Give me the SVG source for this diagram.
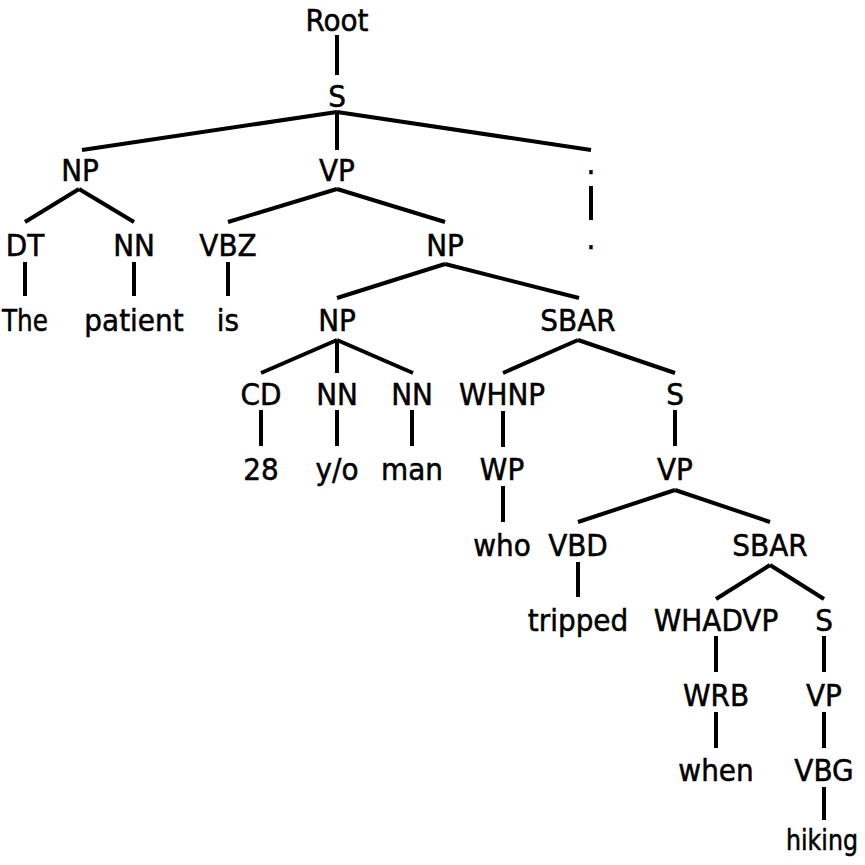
<svg xmlns="http://www.w3.org/2000/svg" width="865" height="865" viewBox="0 0 865 865">
<style>
text{font-family:"Liberation Sans Narrow","DejaVu Sans Condensed","Liberation Sans",sans-serif;font-size:31px;fill:#000;text-anchor:middle;stroke:#000;stroke-width:0.5}
#edges line{stroke:#000;stroke-width:4;stroke-linecap:butt}
</style>
<rect width="865" height="865" fill="#fff"/>
<g id="edges">
<line x1="337" y1="35" x2="337" y2="75"/>
<line x1="337" y1="112" x2="82" y2="150"/>
<line x1="337" y1="112" x2="337" y2="150"/>
<line x1="337" y1="112" x2="591" y2="150"/>
<line x1="79" y1="189" x2="25" y2="222"/>
<line x1="79" y1="189" x2="134" y2="222"/>
<line x1="337" y1="189" x2="228" y2="222"/>
<line x1="337" y1="189" x2="445" y2="222"/>
<line x1="591" y1="186" x2="591" y2="220"/>
<line x1="25" y1="262" x2="25" y2="296"/>
<line x1="134" y1="262" x2="134" y2="296"/>
<line x1="228" y1="262" x2="228" y2="296"/>
<line x1="445" y1="264" x2="337" y2="298"/>
<line x1="445" y1="264" x2="579" y2="298"/>
<line x1="337" y1="340" x2="261" y2="373"/>
<line x1="337" y1="340" x2="337" y2="373"/>
<line x1="337" y1="340" x2="413" y2="373"/>
<line x1="578" y1="340" x2="503" y2="373"/>
<line x1="578" y1="340" x2="675" y2="373"/>
<line x1="261" y1="410" x2="261" y2="446"/>
<line x1="337" y1="410" x2="337" y2="446"/>
<line x1="412" y1="410" x2="412" y2="446"/>
<line x1="503" y1="411" x2="503" y2="447"/>
<line x1="675" y1="410" x2="675" y2="446"/>
<line x1="503" y1="486" x2="503" y2="522"/>
<line x1="675" y1="490" x2="578" y2="522"/>
<line x1="675" y1="490" x2="770" y2="522"/>
<line x1="578" y1="562" x2="578" y2="597"/>
<line x1="770" y1="565" x2="716" y2="599"/>
<line x1="770" y1="565" x2="824" y2="599"/>
<line x1="716" y1="636" x2="716" y2="672"/>
<line x1="824" y1="636" x2="824" y2="672"/>
<line x1="716" y1="712" x2="716" y2="748"/>
<line x1="824" y1="712" x2="824" y2="748"/>
<line x1="824" y1="787" x2="824" y2="820"/>
</g>
<g id="n-root"><text x="337" y="31">Root</text></g>
<g id="n-s"><text x="337" y="107">S</text></g>
<g id="n-np1"><text x="80" y="181">NP</text></g>
<g id="n-vp1"><text x="337" y="181">VP</text></g>
<g id="n-punct"><text x="591" y="174">.</text></g>
<g id="n-dt"><text x="25" y="256">DT</text></g>
<g id="n-nn1"><text x="134" y="256">NN</text></g>
<g id="n-vbz"><text x="228" y="256">VBZ</text></g>
<g id="n-np2"><text x="445" y="256">NP</text></g>
<g id="n-punctw"><text x="591" y="249">.</text></g>
<g id="n-the"><text x="25" y="331" textLength="46" lengthAdjust="spacingAndGlyphs">The</text></g>
<g id="n-patient"><text x="134" y="331">patient</text></g>
<g id="n-is"><text x="228" y="331">is</text></g>
<g id="n-np3"><text x="337" y="331">NP</text></g>
<g id="n-sbar1"><text x="578" y="331">SBAR</text></g>
<g id="n-cd"><text x="261" y="405">CD</text></g>
<g id="n-nn2"><text x="337" y="405">NN</text></g>
<g id="n-nn3"><text x="412" y="405">NN</text></g>
<g id="n-whnp"><text x="502" y="405">WHNP</text></g>
<g id="n-s2"><text x="675" y="405">S</text></g>
<g id="n-28"><text x="261" y="480">28</text></g>
<g id="n-yo"><text x="337" y="480">y/o</text></g>
<g id="n-man"><text x="412" y="480">man</text></g>
<g id="n-wp"><text x="502" y="480">WP</text></g>
<g id="n-vp2"><text x="675" y="480">VP</text></g>
<g id="n-who"><text x="502" y="556">who</text></g>
<g id="n-vbd"><text x="578" y="556">VBD</text></g>
<g id="n-sbar2"><text x="770" y="556">SBAR</text></g>
<g id="n-tripped"><text x="578" y="631">tripped</text></g>
<g id="n-whadvp"><text x="716" y="631">WHADVP</text></g>
<g id="n-s3"><text x="824" y="631">S</text></g>
<g id="n-wrb"><text x="716" y="706">WRB</text></g>
<g id="n-vp3"><text x="824" y="706">VP</text></g>
<g id="n-when"><text x="716" y="781">when</text></g>
<g id="n-vbg"><text x="824" y="781">VBG</text></g>
<g id="n-hiking"><text x="822" y="850" style="font-size:29px" textLength="72" lengthAdjust="spacingAndGlyphs">hiking</text></g>
</svg>
